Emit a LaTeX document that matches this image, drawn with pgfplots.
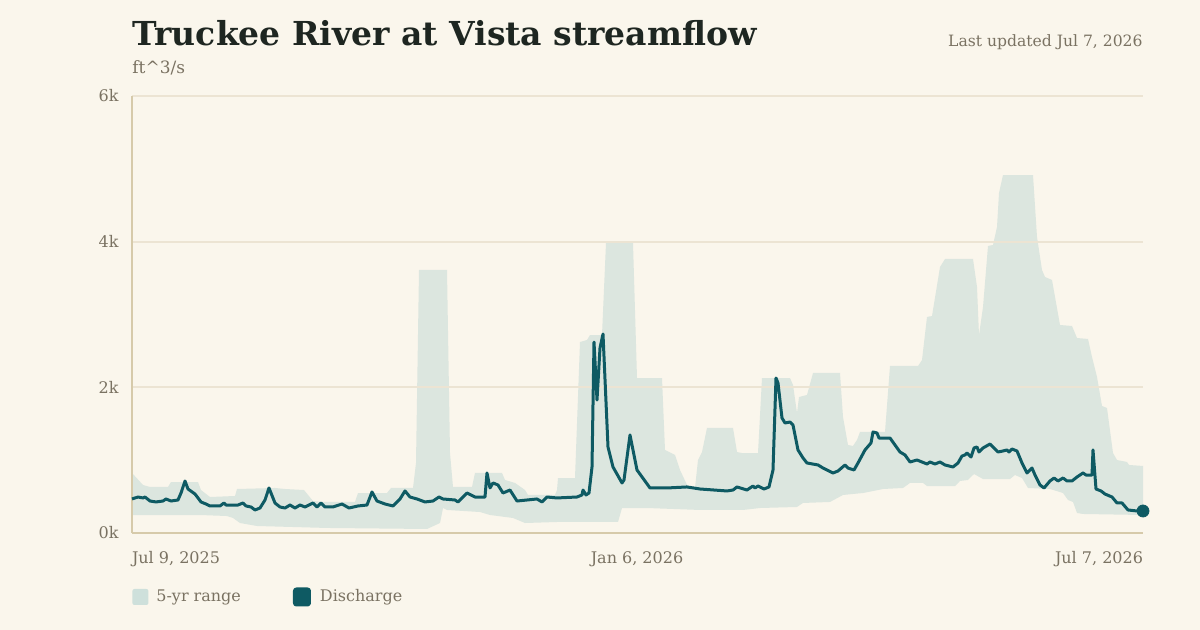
\documentclass[border=0pt]{standalone}
\usepackage{pgfplots}
\pgfplotsset{compat=1.18}
\usepackage{fontspec}
\setmainfont{DejaVu Serif}
\definecolor{bg}{RGB}{250,246,236}
\definecolor{band}{RGB}{220,230,223}
\definecolor{bandleg}{RGB}{206,224,219}
\definecolor{tealc}{RGB}{14,90,99}
\definecolor{titlec}{RGB}{30,38,33}
\definecolor{greyt}{RGB}{122,114,98}
\definecolor{gridc}{RGB}{236,228,211}
\definecolor{axisc}{RGB}{214,202,170}
\pagecolor{bg}
\begin{document}
\begin{tikzpicture}[x=1pt,y=1pt]
\path (0,0) rectangle (600,315);
\node[anchor=base west, inner sep=0pt, text=titlec, font=\bfseries\fontsize{16.5}{20}\selectfont] at (66,292) {Truckee River at Vista streamflow};
\node[anchor=base west, inner sep=0pt, text=greyt, font=\fontsize{8.5}{11}\selectfont] at (66,278) {ft\textasciicircum 3/s};
\node[anchor=base east, inner sep=0pt, text=greyt, font=\fontsize{7.8}{10}\selectfont] at (571.5,291.5) {Last updated Jul 7, 2026};
\begin{axis}[
  at={(66pt,48.5pt)}, anchor=south west,
  scale only axis, width=505.5pt, height=218.5pt,
  xmin=132, xmax=1143, ymin=0, ymax=6000,
  set layers,
  axis x line=bottom, axis y line=left,
  axis line style={-, draw=axisc, line width=1pt},
  major tick length=0pt,
  ymajorgrids, grid style={draw=gridc, line width=1pt},
  ytick={0,2000,4000,6000}, yticklabels={0k,2k,4k,6k},
  xtick={132,637,1143},
  xticklabels={{\rlap{Jul 9, 2025}},{Jan 6, 2026},{\llap{Jul 7, 2026}}},
  yticklabel style={anchor=east, inner sep=0pt, xshift=-6.5pt, text=greyt, font=\fontsize{8}{10}\selectfont},
  xticklabel style={anchor=north, inner sep=0pt, yshift=-9pt, text=greyt, font=\fontsize{8}{10}\selectfont},
  clip=false,
  legend columns=2,
  legend style={at={(axis description cs:0,0)}, anchor=west, yshift=-32pt, draw=none, fill=none, inner sep=0pt,
    font=\fontsize{8}{10}\selectfont, text=greyt,
    /tikz/every even column/.append style={column sep=24pt}},
  legend cell align=left,
]
\addplot[on layer=axis background, fill=band, draw=none,
  legend image code/.code={\fill[bandleg, rounded corners=1pt] (0pt,-4pt) rectangle (8pt,4pt); \path (10pt,0pt);}]
coordinates {
(132,824) (143,659) (150,632) (168,632) (171,700) (198,700) (201,590) (210,494) (235,508) (237,604) (275,618) (285,604) (304,590) (313,439) (323,426) (355,426) (358,549) (387,549) (391,618) (413,618) (416,961) (419,3611) (447,3611) (450,1098) (453,632) (472,632) (475,824) (502,824) (505,728) (515,687) (525,590) (528,522) (555,522) (557,590) (558,755) (575,755) (580,2622) (587,2650) (590,2718) (602,2718) (606,3982) (633,3982) (637,2128) (662,2128) (665,1140) (675,1071) (680,865) (688,632) (695,618) (698,1002) (702,1112) (707,1442) (733,1442) (737,1112) (742,1098) (758,1098) (762,2128) (790,2128) (793,2032) (797,1648) (799,1867) (807,1895) (813,2197) (840,2197) (843,1593) (848,1208) (853,1195) (857,1277) (860,1387) (885,1387) (890,2293) (918,2293) (922,2375) (927,2966) (932,2979) (940,3652) (945,3762) (973,3762) (977,3378) (979,2718) (983,3103) (988,3941) (993,3954) (997,4201) (999,4668) (1003,4915) (1033,4915) (1037,4064) (1042,3611) (1045,3515) (1052,3474) (1060,2856) (1072,2842) (1077,2677) (1088,2664) (1092,2416) (1097,2142) (1102,1744) (1107,1716) (1113,1098) (1117,1002) (1127,975) (1129,934) (1143,920)
(1143,247) (1083,261) (1077,275) (1073,426) (1068,453) (1063,549) (1050,604) (1028,618) (1022,755) (1015,796) (1010,741) (983,741) (974,810) (968,728) (960,714) (955,645) (927,645) (923,687) (910,687) (903,618) (883,604) (863,549) (843,522) (830,426) (803,412) (797,357) (760,343) (743,316) (700,316) (647,343) (622,343) (618,151) (557,151) (525,137) (513,206) (490,247) (480,288) (447,316) (443,343) (440,137) (427,55) (327,69) (257,96) (240,137) (233,206) (227,233) (200,247) (132,247)
} -- cycle;
\addlegendentry{5-yr range}
\addplot[draw=tealc, line width=1.5pt, line join=round, mark=none,
  legend image code/.code={\fill[tealc, rounded corners=1pt] (0pt,-4pt) rectangle (7.5pt,4pt); \path (10pt,0pt);}]
coordinates {
(132,467) (138,494) (143,481) (145,494) (150,439) (156,426) (163,439) (166,467) (171,439) (178,453) (181,549) (185,714) (188,604) (195,535) (198,481) (201,426) (206,398) (210,371) (220,371) (224,412) (226,384) (238,384) (243,412) (246,371) (251,357) (255,316) (260,343) (265,453) (269,618) (275,412) (280,357) (285,343) (290,384) (295,343) (300,384) (305,357) (313,412) (317,357) (321,412) (325,357) (333,357) (342,398) (349,343) (358,371) (367,384) (372,563) (377,439) (385,398) (393,371) (400,467) (405,577) (410,494) (417,467) (425,426) (433,439) (439,494) (443,467) (455,453) (458,426) (467,549) (475,494) (485,494) (487,824) (490,618) (493,687) (498,659) (503,549) (510,590) (517,439) (537,467) (542,426) (547,494) (557,481) (577,494) (582,522) (583,590) (586,522) (589,549) (592,906) (594,2622) (597,1826) (600,2540) (603,2732) (608,1181) (613,906) (622,687) (624,728) (630,1346) (637,865) (650,618) (667,618) (687,632) (700,604) (727,577) (733,590) (737,632) (747,590) (753,645) (755,618) (758,645) (764,604) (769,632) (773,865) (776,2128) (778,2060) (782,1579) (785,1510) (790,1524) (793,1483) (798,1140) (803,1030) (807,961) (818,934) (823,892) (833,824) (838,851) (845,934) (848,892) (854,865) (858,961) (865,1140) (871,1236) (873,1387) (877,1373) (879,1304) (890,1304) (900,1112) (905,1071) (910,975) (917,1002) (927,947) (930,975) (935,947) (940,975) (945,934) (953,906) (958,961) (962,1057) (965,1071) (967,1098) (971,1043) (974,1167) (977,1181) (979,1112) (983,1167) (990,1222) (998,1112) (1003,1126) (1007,1140) (1009,1112) (1012,1153) (1017,1126) (1022,961) (1023,934) (1027,824) (1032,892) (1035,796) (1040,659) (1044,618) (1050,714) (1054,755) (1058,714) (1063,755) (1067,714) (1072,714) (1077,769) (1083,824) (1086,796) (1092,796) (1093,1140) (1096,604) (1101,577) (1105,535) (1112,494) (1117,412) (1122,412) (1128,316) (1137,302) (1143,302)
};
\addlegendentry{Discharge}
\addplot[forget plot, only marks, mark=*, mark size=3pt, draw=tealc, fill=tealc] coordinates {(1143,302)};
\end{axis}
\end{tikzpicture}
\end{document}
